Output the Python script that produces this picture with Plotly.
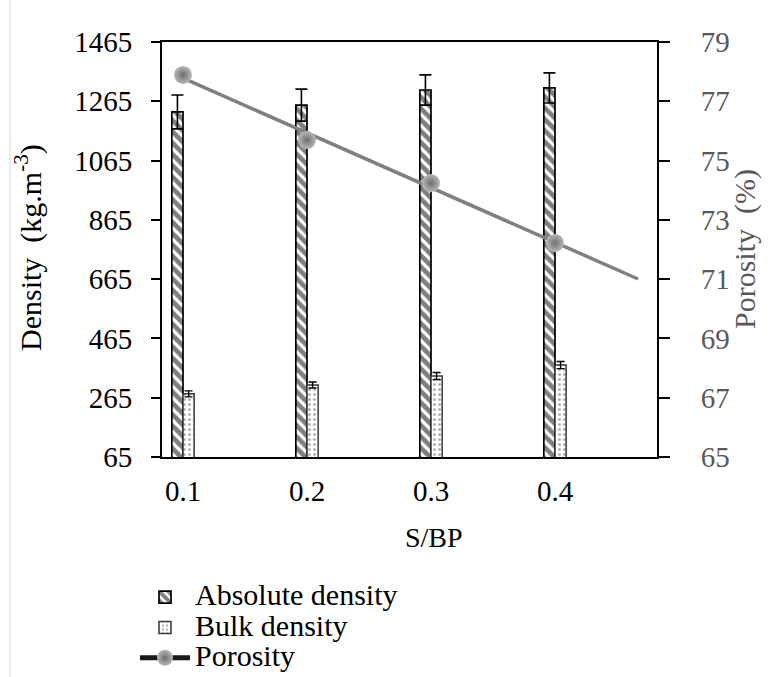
import numpy as np
import plotly.graph_objects as go

# ---- data ----
sbp = [0.1, 0.2, 0.3, 0.4]
tick_labels = ["0.1", "0.2", "0.3", "0.4"]
absolute_density = [1229, 1252, 1303, 1310]
absolute_err = [57, 54, 51, 51]
bulk_density = [278, 308, 338, 375]
bulk_err = [10, 10, 12, 12]
porosity = [77.89, 75.69, 74.24, 72.22]
trend_extent = [0.1, 0.467]

left_ticks = [65, 265, 465, 665, 865, 1065, 1265, 1465]
right_ticks = [65, 67, 69, 71, 73, 75, 77, 79]

# ---- layout geometry (page pixels) ----
W, H = 769, 677
PL, PR, PT, PB = 162, 657, 42, 457          # plot area on the page
L, R, T, B = PL, W - PR, PT, H - PB
PW, PH = PR - PL, PB - PT

def px_x(px):
    return (px - PL) / PW

def px_y(py):
    return (PB - py) / PH

FONT = "Liberation Serif"
GRAY_TXT = "#595959"

# trendline (linear regression of porosity on S/BP, as the spreadsheet does)
coef = np.polyfit(sbp, porosity, 1)
trend_y = list(np.polyval(coef, trend_extent))

def big(name):
    return '<span style="font-size:30px">' + name + '</span>'

fig = go.Figure()

fig.add_trace(go.Bar(
    x=sbp, y=absolute_density, name=big("Absolute density"),
    offset=-0.009, width=0.009,
    marker=dict(color="white", line=dict(color="black", width=1.7),
                pattern=dict(shape="\\", fgcolor="black", bgcolor="white",
                             size=8, solidity=0.6)),
    error_y=dict(type="data", array=absolute_err, visible=True,
                 color="black", thickness=1.6, width=6),
))
fig.add_trace(go.Bar(
    x=sbp, y=bulk_density, name=big("Bulk density"),
    offset=0.0, width=0.009,
    marker=dict(color="white", line=dict(color="#3a3a3a", width=1.5),
                pattern=dict(shape=".", fgcolor="#6a6a6a", bgcolor="white",
                             size=5, solidity=0.3)),
    error_y=dict(type="data", array=bulk_err, visible=True,
                 color="black", thickness=1.4, width=4),
))

fig.add_trace(go.Scatter(
    x=trend_extent, y=trend_y, yaxis="y2", mode="lines",
    line=dict(color="#808080", width=3.5), showlegend=False, hoverinfo="skip",
))
sphere = dict(size=18, color="#b8b8b8",
              gradient=dict(type="radial", color="#6e6e6e"),
              line=dict(width=0))
fig.add_trace(go.Scatter(
    x=sbp, y=porosity, yaxis="y2", mode="markers",
    marker=sphere, showlegend=False, name="Porosity",
))
# legend entry for the porosity series (line + sphere marker)
fig.add_trace(go.Scatter(
    x=[None], y=[None], yaxis="y2", mode="lines+markers", name=big("Porosity"),
    line=dict(color="#1a1a1a", width=5), marker=sphere,
))

fig.update_layout(
    width=W, height=H,
    margin=dict(l=L, r=R, t=T, b=B, autoexpand=False),
    paper_bgcolor="white", plot_bgcolor="white",
    barmode="overlay",
    font=dict(family=FONT, size=28, color="black"),
    xaxis=dict(
        range=[0.08306, 0.48226], tickvals=sbp, ticktext=tick_labels,
        showgrid=False, zeroline=False, showline=True, linecolor="black",
        linewidth=2, ticks="", ticklabelstandoff=7, mirror=True,
        tickfont=dict(family=FONT, size=29, color="black"),
    ),
    yaxis=dict(
        range=[65, 1465], tickvals=left_ticks, showgrid=False, zeroline=False,
        showline=True, linecolor="black", linewidth=2, ticks="outside",
        ticklen=9, tickwidth=1.5, tickcolor="black", ticklabelstandoff=13,
        tickfont=dict(family=FONT, size=29, color="black"),
    ),
    yaxis2=dict(
        range=[65, 79], tickvals=right_ticks, overlaying="y", side="right",
        showgrid=False, zeroline=False, showline=True, linecolor="black",
        linewidth=2, ticks="outside", ticklen=11, tickwidth=1.5,
        tickcolor="black", ticklabelstandoff=25,
        tickfont=dict(family=FONT, size=29, color=GRAY_TXT),
    ),
    legend=dict(
        x=px_x(135), y=px_y(577), xanchor="left", yanchor="top",
        font=dict(family=FONT, size=21, color="black"),
        itemwidth=50, tracegroupgap=0, bgcolor="rgba(0,0,0,0)",
    ),
    annotations=[
        dict(text="Density  (kg.m<sup>-3</sup>)", textangle=-90,
             x=px_x(28), y=px_y(248), xref="paper", yref="paper",
             xanchor="center", yanchor="middle",
             showarrow=False, font=dict(family=FONT, size=30, color="black")),
        dict(text="Porosity  (%)", textangle=-90,
             x=px_x(745), y=px_y(249), xref="paper", yref="paper",
             xanchor="center", yanchor="middle",
             showarrow=False, font=dict(family=FONT, size=30, color=GRAY_TXT)),
        dict(text="S/BP", x=px_x(434), y=px_y(537), xref="paper", yref="paper",
             xanchor="center", yanchor="middle",
             showarrow=False, font=dict(family=FONT, size=28, color="black")),
    ],
    shapes=[
        dict(type="line", xref="paper", yref="paper",
             x0=px_x(10), x1=px_x(10), y0=px_y(0), y1=px_y(H),
             line=dict(color="#d9d9d9", width=1)),
    ],
    showlegend=True,
)

# the page body's default 8px margin would push the 769x677 figure off-screen
fig.write_html("out.html", config={"displayModeBar": False},
               post_script="document.body.style.margin='0';")
